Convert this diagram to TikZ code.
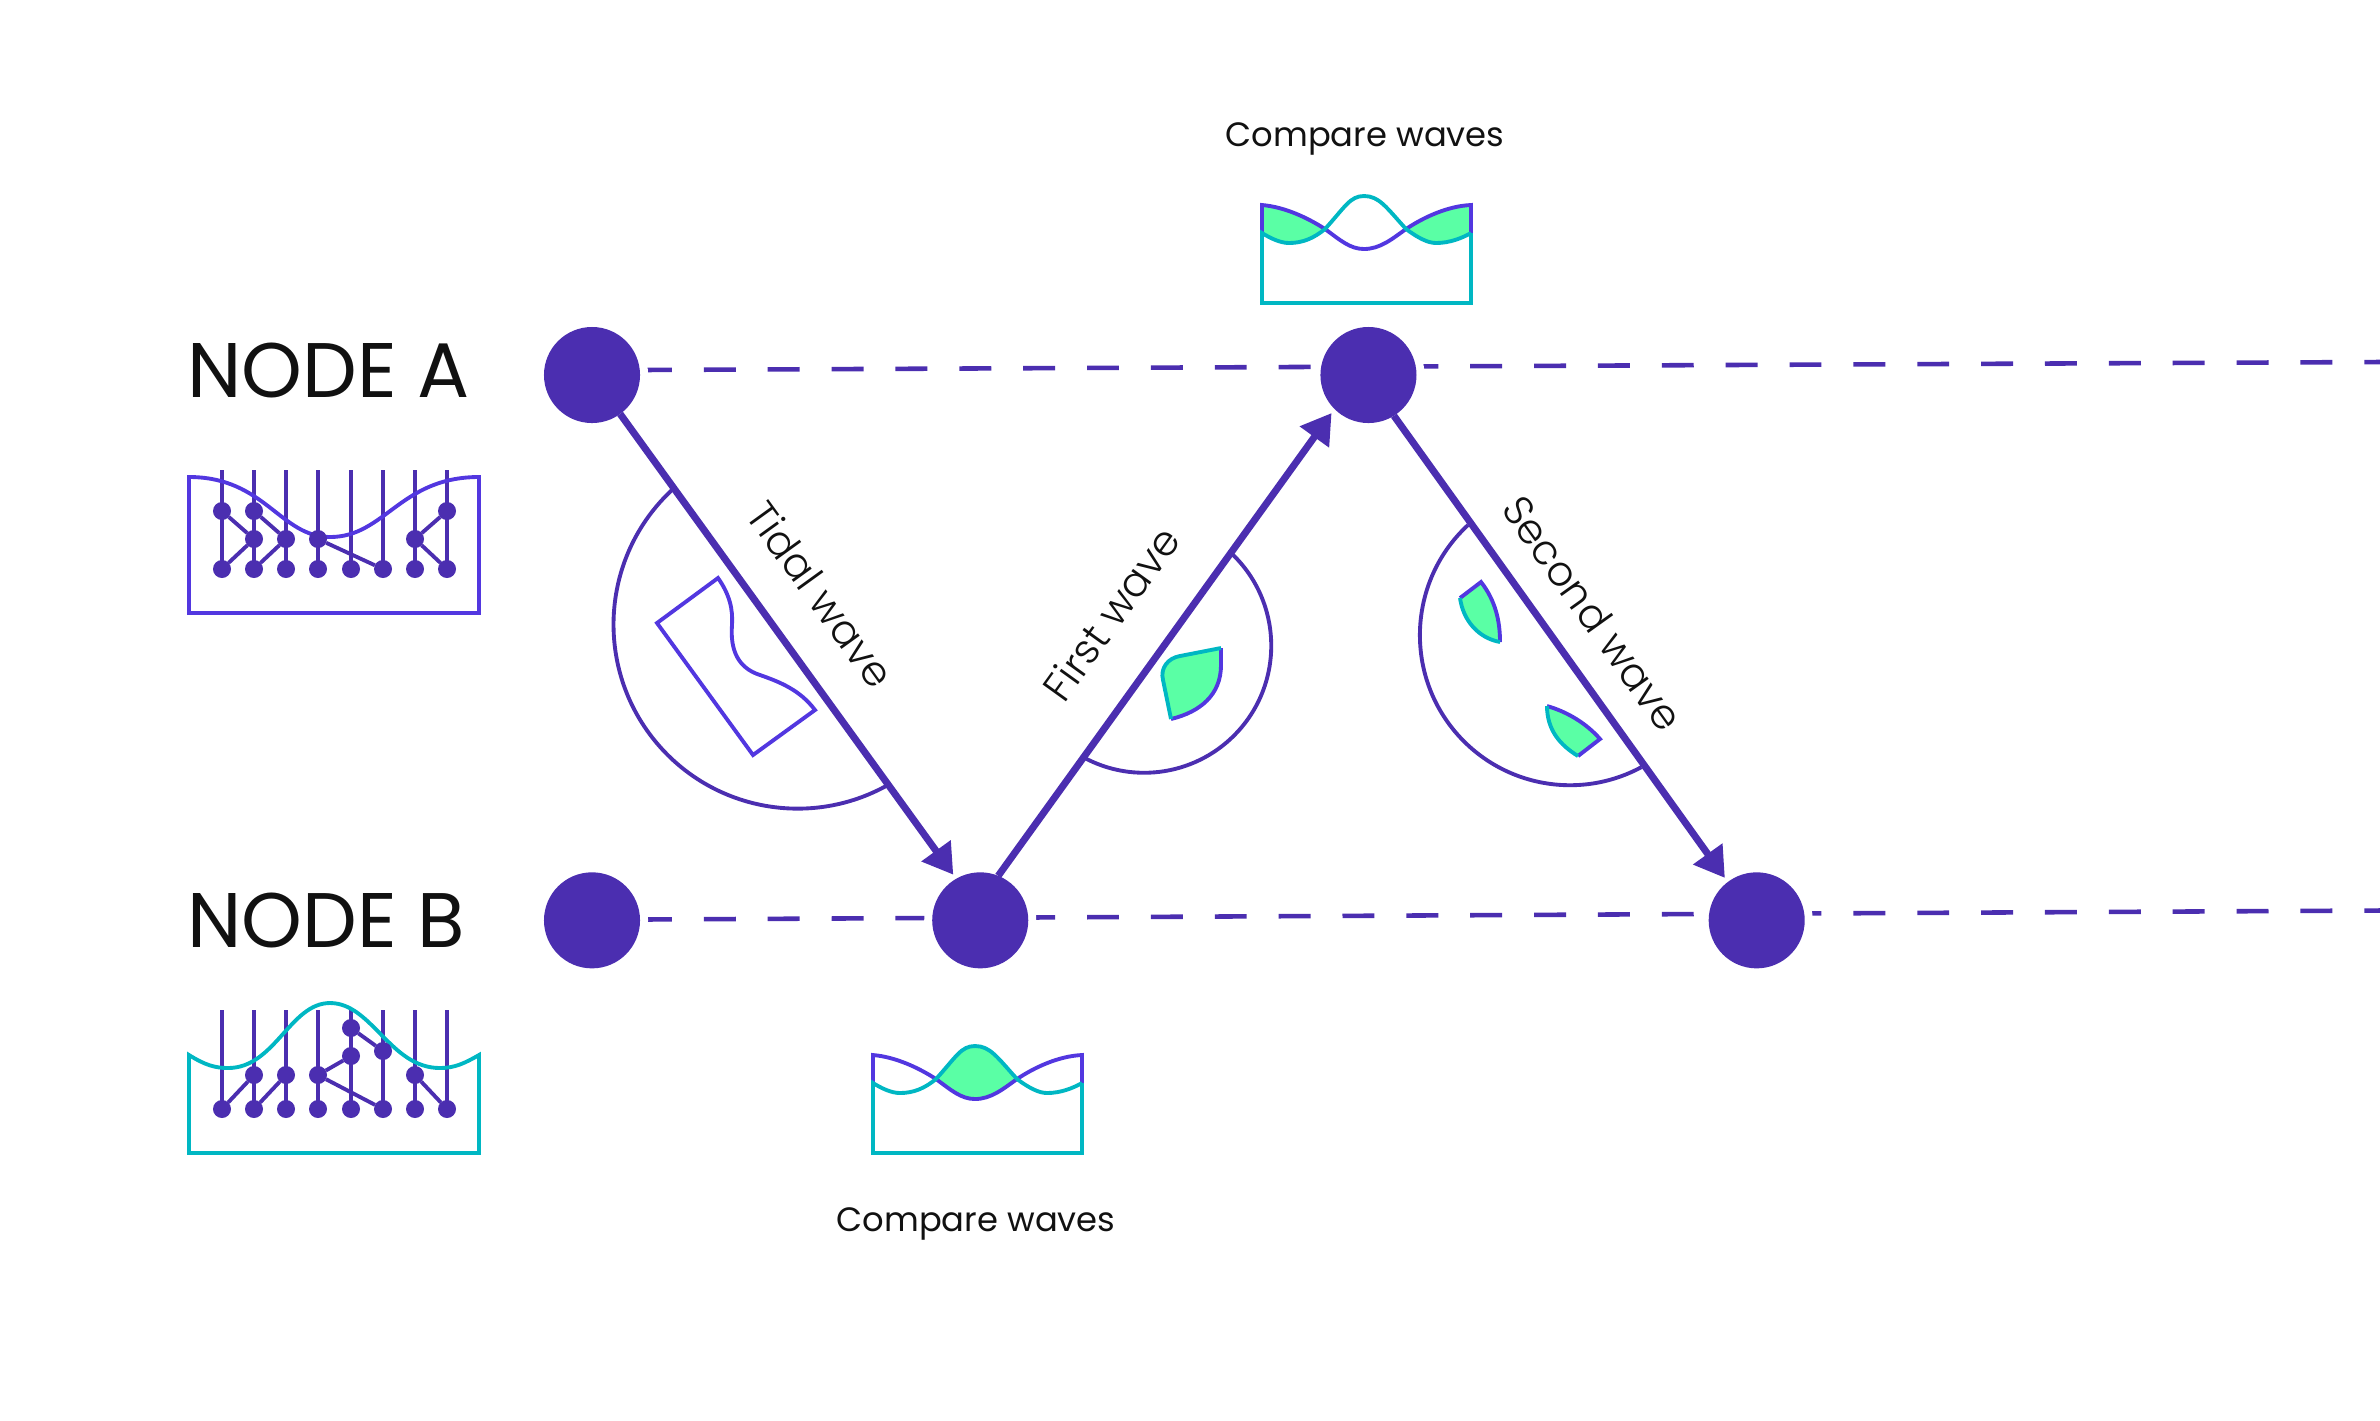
\documentclass[tikz,border=0pt]{standalone}
\usepackage{fontspec}
\setmainfont{Poppins}
\newfontfamily\thinfont{Poppins Light}
\usetikzlibrary{positioning}
\usetikzlibrary{arrows.meta}
\usetikzlibrary{backgrounds}

\definecolor{wavenode}{HTML}{4B2EB0}
\definecolor{waveblue}{HTML}{5237E0}
\definecolor{waveteal}{HTML}{00B7C3}
\definecolor{wavegreen}{HTML}{5AFFA5}
\definecolor{waveink}{HTML}{111111}

\begin{document}
\begin{tikzpicture}[
    x=0.01cm, y=-0.01cm,
    mynode/.style={fill=wavenode,circle,inner sep=0pt,outer sep=0pt,minimum size=0.96cm},
    netdot/.style={fill=wavenode,circle,inner sep=0pt,outer sep=0pt,minimum size=0.18cm},
    netline/.style={draw=wavenode,line width=1.1pt},
    arrowline/.style={draw=wavenode,line width=2pt,-{Triangle[length=8.4pt,width=9.8pt]},shorten >=0.05cm},
    dashline/.style={draw=wavenode,line width=1.3pt,dash pattern=on 9.08pt off 9.08pt},
    arcline/.style={draw=wavenode,line width=1.1pt},
    blueline/.style={draw=waveblue,line width=1.1pt},
    tealline/.style={draw=waveteal,line width=1.1pt},
    nodetext/.style={text=waveink,font=\fontsize{22}{26}\selectfont},
    cmptext/.style={text=waveink,font=\fontsize{9.6}{12}\selectfont},
    wavetext/.style={text=waveink,font=\thinfont\fontsize{11.75}{14}\selectfont}
    ]
    \useasboundingbox (0,0) rectangle (2380,1420);

    % the five events
    \node[mynode] (a1) at (592,375) {};
    \node[mynode, below=4.49cm of a1] (b1) {};
    \node[mynode, right=6.80cm of a1] (a2) {};
    \node[mynode, right=2.92cm of b1] (b2) {};
    \node[mynode, right=6.80cm of b2] (b3) {};
    \coordinate (astart) at (640,370);
    \coordinate (aend) at (2380,362);
    \coordinate (bstart) at (640,919.5);
    \coordinate (bend) at (2380,910.5);

    \node[nodetext, anchor=west] (la) at (175,370) {NODE A};
    \node[nodetext, anchor=west] (lb) at (175,920) {NODE B};

    \begin{scope}[on background layer]
      \draw[dashline] (astart) -- (aend);
      \draw[dashline] (bstart) -- (bend);
      \foreach \n in {a1,a2,b1,b2,b3} {
        \fill[white] (\n) circle[radius=0.56cm];
      }
    \end{scope}

    \path (a1) edge[arrowline] node[wavetext, sloped, above=0.26cm, pos=0.46] (t1) {Tidal wave} (b2.120)
    (b2.68) edge[arrowline] node[wavetext, sloped, above=0.31cm, pos=0.485] (t2) {First wave} (a2.225)
    (a2.-58) edge[arrowline] node[wavetext, sloped, above=0.16cm, pos=0.482] (t3) {Second wave} (b3.127)
    ;

    % half discs under the arrows
    \draw[arcline] (673,489) arc[start angle=132.6,end angle=299,radius=1.84cm];
    \draw[arcline] (1230,552) arc[start angle=47.5,end angle=-118.8,radius=1.27cm];
    \draw[arcline] (1468,525) arc[start angle=132.8,end angle=298.4,radius=1.50cm];

    \draw[blueline, line join=miter] (718,578) .. controls (730,595) and (733,610) .. (732,625)
    .. controls (730,650) and (738,668) .. (760,675)
    .. controls (780,682) and (800,690) .. (815,710)
    -- (753,755) -- (657,623) -- cycle;

    % leaves
    \fill[wavegreen] (1221,648) -- (1180,656) .. controls (1168,658) and (1160,668) .. (1163,680) -- (1171,719)
    .. controls (1200,712) and (1221,695) .. (1221,665) -- cycle;
    \draw[blueline] (1171,719) .. controls (1200,712) and (1221,695) .. (1221,665) -- (1221,648);
    \draw[tealline] (1221,648) -- (1180,656) .. controls (1168,658) and (1160,668) .. (1163,680) -- (1171,719);

    \fill[wavegreen] (1460,598) -- (1481,582) .. controls (1495,600) and (1500,620) .. (1500,642)
    .. controls (1478,638) and (1463,620) .. (1460,598);
    \draw[blueline] (1460,598) -- (1481,582) .. controls (1495,600) and (1500,620) .. (1500,642);
    \draw[tealline] (1460,598) .. controls (1463,620) and (1478,638) .. (1500,642);

    \fill[wavegreen] (1547,706) .. controls (1568,712) and (1587,724) .. (1600,739) -- (1578,756)
    .. controls (1560,745) and (1547,730) .. (1547,706);
    \draw[blueline] (1547,706) .. controls (1568,712) and (1587,724) .. (1600,739) -- (1578,756);
    \draw[tealline] (1578,756) .. controls (1560,745) and (1547,730) .. (1547,706);

    % network of node A
    \foreach \c/\x in {1/222,2/254,3/286,4/318,5/351,6/383,7/415,8/447} {
      \coordinate (at\c) at (\x,470);
      \coordinate (ab\c) at (\x,569);
      \draw[netline] (at\c) -- (ab\c);
    }
    \draw[blueline] (189,477) .. controls (265,477) and (280,537) .. (330,537)
    .. controls (385,537) and (400,477) .. (479,477) -- (479,613) -- (189,613) -- cycle;
    \foreach \n/\x/\y in {a11/222/511,a13/222/569,a21/254/511,a22/254/539,a23/254/569,
      a32/286/539,a33/286/569,a42/318/539,a43/318/569,a53/351/569,a63/383/569,
      a72/415/539,a73/415/569,a81/447/511,a83/447/569} {
      \node[netdot] (\n) at (\x,\y) {};
    }
    \draw[netline] (a11) -- (a22) (a13) -- (a22) (a21) -- (a32) (a23) -- (a32)
    (a42) -- (a63) (a72) -- (a81) (a72) -- (a83);

    % network of node B
    \foreach \c/\x in {1/222,2/254,3/286,4/318,5/351,6/383,7/415,8/447} {
      \coordinate (bt\c) at (\x,1010);
      \coordinate (bb\c) at (\x,1109);
      \draw[netline] (bt\c) -- (bb\c);
    }
    \draw[tealline] (189,1055) .. controls (205,1065) and (215,1068) .. (228,1068)
    .. controls (275,1068) and (290,1003) .. (330,1003)
    .. controls (372,1003) and (390,1068) .. (440,1068)
    .. controls (455,1068) and (465,1063) .. (479,1055) -- (479,1153) -- (189,1153) -- cycle;
    \foreach \n/\x/\y in {c13/222/1109,c22/254/1075,c23/254/1109,c32/286/1075,c33/286/1109,
      c42/318/1075,c43/318/1109,c50/351/1028,c51/351/1056,c53/351/1109,c61/383/1051,c63/383/1109,
      c72/415/1075,c73/415/1109,c83/447/1109} {
      \node[netdot] (\n) at (\x,\y) {};
    }
    \draw[netline] (c13) -- (c22) (c23) -- (c32) (c42) -- (c51) (c42) -- (c63)
    (c50) -- (c61) (c72) -- (c83);

    % compare waves, above node A
    \fill[wavegreen] (1262,205) .. controls (1285,207) and (1308,218) .. (1325,229)
    .. controls (1314,238) and (1303,243) .. (1289,243) .. controls (1280,243) and (1270,238) .. (1262,233) -- cycle;
    \fill[wavegreen] (1471,205) .. controls (1448,206) and (1424,217) .. (1406,229)
    .. controls (1418,238) and (1428,243) .. (1436,243) .. controls (1450,243) and (1462,238) .. (1471,233) -- cycle;
    \draw[blueline] (1262,233) -- (1262,205) .. controls (1285,207) and (1308,218) .. (1325,229)
    .. controls (1340,240) and (1350,249) .. (1364,249) .. controls (1380,249) and (1392,239) .. (1406,229)
    .. controls (1424,217) and (1448,206) .. (1471,205) -- (1471,233);
    \draw[tealline] (1471,233) -- (1471,303) -- (1262,303) -- (1262,233)
    .. controls (1270,238) and (1280,243) .. (1289,243) .. controls (1303,243) and (1314,238) .. (1325,229)
    .. controls (1345,207) and (1350,196) .. (1364,196) .. controls (1379,196) and (1386,207) .. (1406,229)
    .. controls (1418,238) and (1428,243) .. (1436,243) .. controls (1450,243) and (1462,238) .. (1471,233);
    \node[cmptext] (ca) at (1365,139) {Compare waves};

    % compare waves, below node B
    \begin{scope}[shift={(-389,850)}]
      \fill[wavegreen] (1325,229) .. controls (1345,207) and (1350,196) .. (1364,196)
      .. controls (1379,196) and (1386,207) .. (1406,229) .. controls (1392,239) and (1380,249) .. (1364,249)
      .. controls (1350,249) and (1340,240) .. (1325,229);
      \draw[blueline] (1262,233) -- (1262,205) .. controls (1285,207) and (1308,218) .. (1325,229)
      .. controls (1340,240) and (1350,249) .. (1364,249) .. controls (1380,249) and (1392,239) .. (1406,229)
      .. controls (1424,217) and (1448,206) .. (1471,205) -- (1471,233);
      \draw[tealline] (1471,233) -- (1471,303) -- (1262,303) -- (1262,233)
      .. controls (1270,238) and (1280,243) .. (1289,243) .. controls (1303,243) and (1314,238) .. (1325,229)
      .. controls (1345,207) and (1350,196) .. (1364,196) .. controls (1379,196) and (1386,207) .. (1406,229)
      .. controls (1418,238) and (1428,243) .. (1436,243) .. controls (1450,243) and (1462,238) .. (1471,233);
      \node[cmptext] (cb) at (1365,374) {Compare waves};
    \end{scope}

  \end{tikzpicture}
\end{document}
